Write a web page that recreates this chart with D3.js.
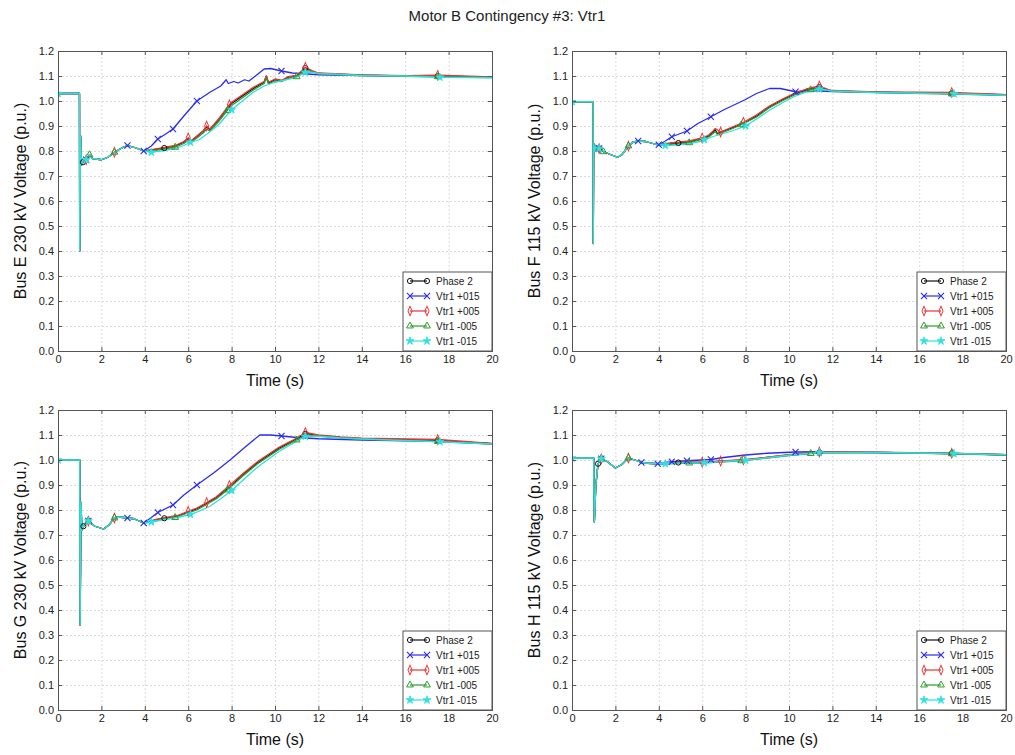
<!DOCTYPE html>
<html>
<head>
<meta charset="utf-8">
<script src="https://cdn.jsdelivr.net/npm/d3@7"></script>
<style>
  body { margin: 0; background: #fff; }
  svg { font-family: "Liberation Sans", Arial, sans-serif; }
  .grid line { stroke: #dadada; stroke-dasharray: 2,2; }
  .grid path { display: none; }
  .frame path { stroke: #555; }
  .frame line { stroke: #555; }
  .frame text { fill: #222; font-size: 11px; }
</style>
</head>
<body>
<div id="chart"></div>
<script>
// time axis ticks and voltage ticks
var xTicks = [0, 2, 4, 6, 8, 10, 12, 14, 16, 18, 20];
var yTicks = [0, 0.1, 0.2, 0.3, 0.4, 0.5, 0.6, 0.7, 0.8, 0.9, 1.0, 1.1, 1.2];

var seriesNames = ["Phase 2", "Vtr1 +015", "Vtr1 +005", "Vtr1 -005", "Vtr1 -015"];
var seriesColors = ["#111111", "#2b2bef", "#f03030", "#2e9a2e", "#2fe0e0"];

// times where markers are drawn, per series
var marksPhase2 = [1.2, 4.9, 11.4, 17.5];
var marksP015 = [1.3, 3.2, 3.95, 4.6, 5.3, 6.4, 10.3];
var marksP005 = [1.3, 2.6, 6.0, 6.85, 7.9, 11.4, 17.5];
var marksM005 = [1.45, 2.6, 5.4, 7.8, 11.0, 17.5];
var marksM015 = [0, 1.3, 4.3, 6.1, 8.0, 11.4, 17.6];

// ---- Bus E 230 kV ----
var busE_start = [[0,1.03],[0.99,1.03],[1.0,0.40],[1.04,0.86],[1.08,0.745],[1.15,0.755],[1.3,0.765],[1.45,0.785],[1.6,0.77],[2.0,0.765],[2.3,0.775],[2.6,0.795],[3.0,0.815],[3.2,0.822],[3.6,0.812],[3.95,0.80]];
var busE_phase2 = [[4.3,0.803],[4.9,0.812],[5.4,0.82],[5.8,0.835],[6.0,0.85],[6.15,0.84],[6.4,0.858],[6.7,0.88],[6.85,0.897],[7.0,0.885],[7.4,0.925],[7.8,0.97],[8.0,0.99],[8.5,1.02],[9.0,1.05],[9.5,1.075],[9.6,1.1],[9.7,1.072],[10.0,1.085],[10.3,1.08],[10.6,1.095],[11.0,1.10],[11.4,1.132],[11.7,1.12],[12,1.11],[14,1.103],[16,1.1],[17.5,1.1],[20,1.095]];
var busE_p015 = [[4.3,0.82],[4.6,0.848],[5.0,0.87],[5.3,0.888],[5.8,0.94],[6.4,1.0],[7.0,1.035],[7.5,1.06],[7.75,1.085],[7.85,1.07],[8.1,1.078],[8.3,1.072],[8.6,1.085],[8.8,1.08],[9.1,1.1],[9.5,1.128],[9.8,1.13],[10.3,1.12],[10.8,1.112],[11.5,1.108],[12,1.105],[14,1.102],[16,1.1],[18,1.098],[20,1.095]];
var busE_p005 = [[4.3,0.805],[4.9,0.814],[5.4,0.822],[5.8,0.838],[6.0,0.853],[6.15,0.842],[6.4,0.86],[6.7,0.882],[6.85,0.9],[7.0,0.888],[7.4,0.928],[7.9,0.985],[8.0,0.995],[8.5,1.025],[9.0,1.055],[9.5,1.078],[9.6,1.1],[9.7,1.075],[10.0,1.088],[10.3,1.083],[10.6,1.097],[11.0,1.102],[11.4,1.135],[11.7,1.122],[12,1.112],[14,1.104],[16,1.101],[17.5,1.103],[20,1.096]];
var busE_m005 = [[4.3,0.8],[4.9,0.808],[5.4,0.815],[5.8,0.83],[6.0,0.842],[6.15,0.836],[6.4,0.852],[6.7,0.873],[6.85,0.888],[7.0,0.88],[7.4,0.918],[7.8,0.962],[8.0,0.982],[8.5,1.013],[9.0,1.044],[9.5,1.07],[9.6,1.092],[9.7,1.068],[10.0,1.08],[10.3,1.078],[10.6,1.09],[11.0,1.097],[11.4,1.125],[11.7,1.118],[12,1.108],[14,1.102],[16,1.099],[17.5,1.097],[20,1.094]];
var busE_m015 = [[4.3,0.795],[4.9,0.802],[5.4,0.81],[5.8,0.822],[6.1,0.835],[6.5,0.845],[6.9,0.87],[7.4,0.905],[7.8,0.945],[8.0,0.965],[8.5,1.0],[9.0,1.035],[9.5,1.06],[10.0,1.075],[10.5,1.085],[11.0,1.095],[11.4,1.115],[11.7,1.115],[12,1.11],[14,1.102],[16,1.1],[17.6,1.095],[20,1.093]];

// ---- Bus F 115 kV ----
var busF_start = [[0,0.997],[0.97,0.997],[0.98,0.43],[1.0,0.83],[1.05,0.80],[1.1,0.822],[1.25,0.81],[1.45,0.797],[1.8,0.785],[2.1,0.775],[2.3,0.785],[2.6,0.82],[2.8,0.835],[3.05,0.84],[3.4,0.838],[3.8,0.828],[4.0,0.825]];
var busF_phase2 = [[4.6,0.83],[4.9,0.832],[5.4,0.837],[5.9,0.848],[6.3,0.86],[6.5,0.875],[6.6,0.885],[6.7,0.87],[7.3,0.89],[7.9,0.91],[8.5,0.94],[9.1,0.977],[9.7,1.005],[10.25,1.028],[10.8,1.045],[11.4,1.056],[11.8,1.045],[12,1.04],[14,1.035],[17.5,1.03],[20,1.024]];
var busF_p015 = [[4.3,0.84],[4.6,0.857],[5.3,0.88],[5.8,0.91],[6.4,0.937],[7.0,0.965],[7.95,1.004],[8.5,1.03],[9.1,1.05],[9.6,1.05],[10.3,1.037],[11,1.042],[12,1.038],[14,1.035],[17.5,1.03],[20,1.025]];
var busF_p005 = [[4.6,0.833],[4.9,0.835],[5.4,0.84],[6.0,0.852],[6.3,0.864],[6.5,0.88],[6.6,0.89],[6.85,0.876],[7.3,0.893],[7.9,0.915],[8.5,0.944],[9.1,0.98],[9.7,1.008],[10.25,1.031],[10.8,1.048],[11.4,1.06],[11.8,1.047],[12,1.042],[14,1.036],[17.5,1.034],[20,1.025]];
var busF_m005 = [[4.6,0.827],[4.9,0.828],[5.4,0.833],[5.9,0.845],[6.3,0.856],[6.5,0.87],[6.6,0.878],[6.7,0.866],[7.3,0.886],[7.8,0.905],[8.5,0.936],[9.1,0.973],[9.7,1.001],[10.25,1.024],[11.0,1.045],[11.4,1.052],[11.8,1.043],[12,1.039],[14,1.034],[17.5,1.028],[20,1.023]];
var busF_m015 = [[4.3,0.822],[4.6,0.823],[5.3,0.828],[5.9,0.838],[6.1,0.845],[6.5,0.858],[7.3,0.878],[8.0,0.9],[8.5,0.928],[9.1,0.963],[9.7,0.993],[10.25,1.018],[10.8,1.036],[11.4,1.048],[12,1.04],[14,1.034],[17.6,1.029],[20,1.023]];

// ---- Bus G 230 kV ----
var busG_start = [[0,1.0],[1.0,1.0],[1.02,0.34],[1.06,0.83],[1.1,0.72],[1.17,0.735],[1.4,0.756],[1.7,0.735],[2.1,0.724],[2.35,0.74],[2.6,0.768],[2.8,0.772],[3.2,0.768],[3.5,0.765],[3.95,0.748]];
var busG_phase2 = [[4.5,0.76],[4.9,0.767],[5.5,0.775],[5.95,0.79],[6.4,0.805],[6.8,0.824],[7.3,0.85],[7.93,0.892],[8.5,0.94],[9.2,0.99],[10.2,1.048],[10.9,1.08],[11.4,1.105],[12,1.098],[13,1.09],[14,1.085],[17.5,1.078],[20,1.065]];
var busG_p015 = [[4.3,0.77],[4.6,0.79],[5.3,0.82],[5.8,0.86],[6.4,0.90],[7.2,0.95],[7.93,1.0],[8.6,1.05],[9.3,1.1],[9.8,1.1],[10.3,1.096],[11,1.09],[12,1.085],[14,1.08],[17.5,1.075],[20,1.065]];
var busG_p005 = [[4.5,0.762],[5.0,0.77],[5.5,0.778],[6.0,0.795],[6.4,0.808],[6.85,0.83],[7.3,0.853],[7.9,0.898],[8.5,0.944],[9.2,0.994],[10.2,1.052],[10.9,1.083],[11.4,1.11],[12,1.1],[13,1.092],[14,1.087],[17.5,1.082],[20,1.066]];
var busG_m005 = [[4.5,0.758],[5.0,0.765],[5.4,0.77],[5.95,0.787],[6.4,0.8],[6.8,0.82],[7.3,0.845],[7.8,0.88],[8.5,0.935],[9.2,0.985],[10.2,1.043],[11.0,1.08],[11.4,1.1],[12,1.096],[13,1.089],[14,1.084],[17.5,1.074],[20,1.064]];
var busG_m015 = [[4.3,0.752],[4.9,0.762],[5.5,0.77],[6.1,0.782],[6.5,0.795],[7.0,0.815],[7.5,0.845],[8.0,0.878],[8.6,0.925],[9.2,0.972],[10.2,1.035],[10.9,1.07],[11.4,1.095],[12,1.095],[13,1.088],[14,1.084],[17.6,1.073],[20,1.064]];

// ---- Bus H 115 kV ----
var busH_start = [[0,1.008],[1.0,1.008],[1.03,0.752],[1.1,0.9],[1.2,0.985],[1.35,1.005],[1.6,0.995],[2.0,0.968],[2.3,0.982],[2.6,1.008],[3.0,0.997],[3.2,0.99],[3.5,0.987],[3.95,0.985]];
var busH_phase2 = [[4.3,0.986],[4.9,0.99],[5.4,0.99],[6.0,0.99],[7.0,0.995],[8.0,1.0],[9.0,1.01],[10.0,1.02],[11.4,1.03],[14,1.03],[17.5,1.026],[20,1.021]];
var busH_p015 = [[4.3,0.99],[4.6,0.993],[5.3,0.997],[6.4,1.002],[7.0,1.01],[8.0,1.02],[9.0,1.027],[10.3,1.032],[11.5,1.033],[14,1.03],[17.5,1.026],[20,1.021]];
var busH_p005 = [[4.3,0.987],[5.0,0.991],[6.0,0.991],[6.85,0.996],[7.9,1.001],[9.0,1.011],[10.0,1.021],[11.4,1.032],[14,1.031],[17.5,1.027],[20,1.021]];
var busH_m005 = [[4.3,0.985],[5.4,0.988],[6.0,0.988],[7.0,0.993],[7.8,0.997],[9.0,1.008],[10.0,1.018],[11.0,1.026],[11.4,1.029],[14,1.03],[17.5,1.025],[20,1.02]];
var busH_m015 = [[4.3,0.985],[5.0,0.988],[6.1,0.989],[7.0,0.994],[8.0,0.999],[9.0,1.009],[10.0,1.019],[11.4,1.03],[14,1.03],[17.6,1.026],[20,1.021]];

var panels = [
  { label: "Bus E 230 kV Voltage (p.u.)", x: 58, y: 51,
    data: [busE_start.concat(busE_phase2), busE_start.concat(busE_p015), busE_start.concat(busE_p005), busE_start.concat(busE_m005), busE_start.concat(busE_m015)] },
  { label: "Bus F 115 kV Voltage (p.u.)", x: 572, y: 51,
    data: [busF_start.concat(busF_phase2), busF_start.concat(busF_p015), busF_start.concat(busF_p005), busF_start.concat(busF_m005), busF_start.concat(busF_m015)] },
  { label: "Bus G 230 kV Voltage (p.u.)", x: 58, y: 410,
    data: [busG_start.concat(busG_phase2), busG_start.concat(busG_p015), busG_start.concat(busG_p005), busG_start.concat(busG_m005), busG_start.concat(busG_m015)] },
  { label: "Bus H 115 kV Voltage (p.u.)", x: 572, y: 410,
    data: [busH_start.concat(busH_phase2), busH_start.concat(busH_p015), busH_start.concat(busH_p005), busH_start.concat(busH_m005), busH_start.concat(busH_m015)] }
];
var markTimes = [marksPhase2, marksP015, marksP005, marksM005, marksM015];

var W = 1015, H = 755;
var width = 434, height = 300;

var svg = d3.select("#chart").append("svg")
  .attr("width", W)
  .attr("height", H);

svg.append("text")
  .attr("x", 507)
  .attr("y", 21)
  .style("text-anchor", "middle")
  .style("font-size", "15px")
  .attr("fill", "#222")
  .text("Motor B Contingency #3: Vtr1");

var xScale = d3.scaleLinear().domain([0, 20]).range([0, width]);
var yScale = d3.scaleLinear().domain([0, 1.2]).range([height, 0]);

var line = d3.line()
  .x(function(d) { return xScale(d[0]); })
  .y(function(d) { return yScale(d[1]); });

// marker shape per series
function drawMarker(g, k, cx, cy, color) {
  var s;
  if (k == 0) {
    g.append("circle").attr("cx", cx).attr("cy", cy).attr("r", 2.6)
      .attr("fill", "none").attr("stroke", color).attr("stroke-width", 1);
  } else if (k == 1) {
    s = d3.symbol().type(d3.symbolX).size(26);
    g.append("path").attr("d", s).attr("transform", "translate(" + cx + "," + cy + ")")
      .attr("fill", "none").attr("stroke", color).attr("stroke-width", 1.1);
  } else if (k == 2) {
    s = d3.symbol().type(d3.symbolDiamond).size(20);
    g.append("path").attr("d", s).attr("transform", "translate(" + cx + "," + cy + ") scale(0.85,1.15)")
      .attr("fill", "none").attr("stroke", color).attr("stroke-width", 1);
  } else if (k == 3) {
    s = d3.symbol().type(d3.symbolTriangle).size(20);
    g.append("path").attr("d", s).attr("transform", "translate(" + cx + "," + cy + ")")
      .attr("fill", "none").attr("stroke", color).attr("stroke-width", 1);
  } else {
    s = d3.symbol().type(d3.symbolStar).size(20);
    g.append("path").attr("d", s).attr("transform", "translate(" + cx + "," + cy + ")")
      .attr("fill", color).attr("stroke", color).attr("stroke-width", 0.8);
  }
}

panels.forEach(function(p, i) {
  var g = svg.append("g").attr("transform", "translate(" + p.x + "," + p.y + ")");

  g.append("clipPath").attr("id", "clip" + i)
    .append("rect").attr("x", 0).attr("y", 0).attr("width", width).attr("height", height);

  // grid
  g.append("g").attr("class", "grid")
    .attr("transform", "translate(0," + height + ")")
    .call(d3.axisBottom(xScale).tickValues(xTicks).tickSize(-height).tickFormat(""));
  g.append("g").attr("class", "grid")
    .call(d3.axisLeft(yScale).tickValues(yTicks).tickSize(-width).tickFormat(""));

  // lines
  var plot = g.append("g").attr("clip-path", "url(#clip" + i + ")");
  p.data.forEach(function(d, k) {
    plot.append("path")
      .datum(d)
      .attr("fill", "none")
      .attr("stroke", seriesColors[k])
      .attr("stroke-width", 1.3)
      .attr("stroke-linejoin", "round")
      .attr("d", line);
  });
  var bis = d3.bisector(function(d) { return d[0]; }).center;
  p.data.forEach(function(d, k) {
    markTimes[k].forEach(function(t) {
      var pt = d[bis(d, t)];
      drawMarker(plot, k, xScale(pt[0]), yScale(pt[1]), seriesColors[k]);
    });
  });

  // frame with inward ticks
  g.append("g").attr("class", "frame")
    .attr("transform", "translate(0," + height + ")")
    .call(d3.axisBottom(xScale).tickValues(xTicks).tickSize(-4).tickPadding(4).tickFormat(d3.format("d")));
  g.append("g").attr("class", "frame")
    .call(d3.axisLeft(yScale).tickValues(yTicks).tickSize(-4).tickPadding(4).tickFormat(d3.format(".1f")));
  g.append("g").attr("class", "frame")
    .call(d3.axisTop(xScale).tickValues(xTicks).tickSize(-4).tickFormat(""));
  g.append("g").attr("class", "frame")
    .attr("transform", "translate(" + width + ",0)")
    .call(d3.axisRight(yScale).tickValues(yTicks).tickSize(-4).tickFormat(""));

  // axis labels
  g.append("text")
    .attr("x", width / 2)
    .attr("y", height + 35)
    .style("text-anchor", "middle")
    .style("font-size", "16px")
    .attr("fill", "#111")
    .text("Time (s)");

  g.append("text")
    .attr("transform", "rotate(-90)")
    .attr("x", -height / 2)
    .attr("y", -32)
    .style("text-anchor", "middle")
    .style("font-size", "16px")
    .attr("fill", "#111")
    .text(p.label);

  // legend
  var lw = 89, lh = 79;
  var lg = g.append("g").attr("transform", "translate(" + (width - lw) + "," + (height - lh) + ")");
  lg.append("rect").attr("width", lw).attr("height", lh)
    .attr("fill", "#fff").attr("stroke", "#555").attr("stroke-width", 1);
  seriesNames.forEach(function(name, k) {
    var yy = 9 + k * 15;
    lg.append("line").attr("x1", 7).attr("x2", 24).attr("y1", yy).attr("y2", yy)
      .attr("stroke", seriesColors[k]).attr("stroke-width", 1.2);
    drawMarker(lg, k, 7, yy, seriesColors[k]);
    drawMarker(lg, k, 24, yy, seriesColors[k]);
    lg.append("text").attr("x", 33).attr("y", yy + 3.5)
      .style("font-size", "10px").attr("fill", "#222")
      .text(name);
  });
});
</script>
</body>
</html>
